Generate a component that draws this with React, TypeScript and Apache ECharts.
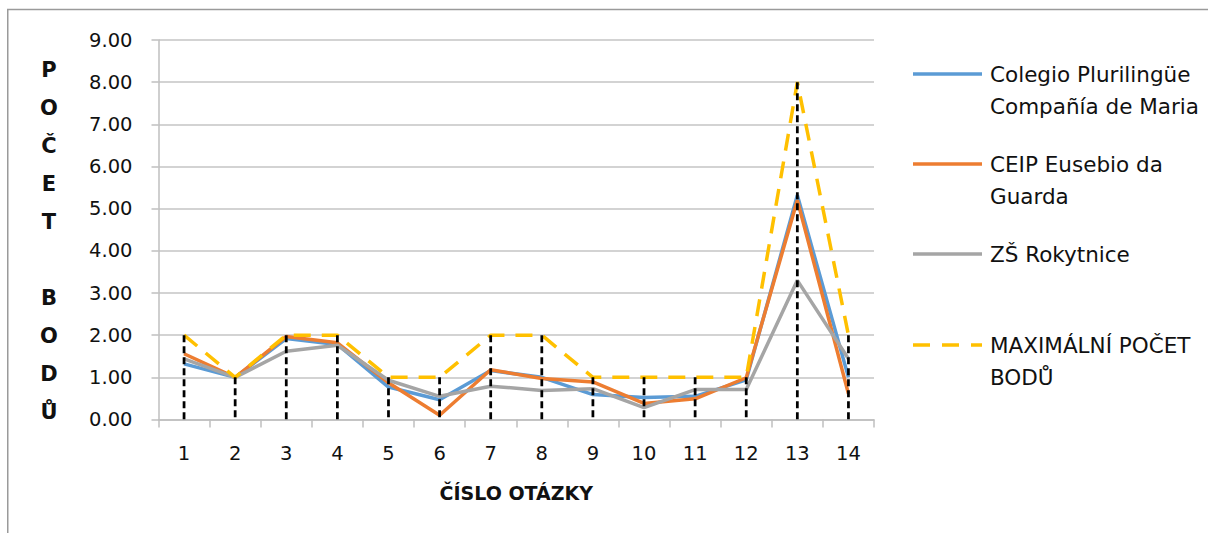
import React, { useEffect, useRef } from "react";
import * as echarts from "echarts";

const categories = ["1", "2", "3", "4", "5", "6", "7", "8", "9", "10", "11", "12", "13", "14"];
const colegio = [1.32, 1.0, 1.92, 1.78, 0.77, 0.47, 1.16, 1.0, 0.59, 0.52, 0.55, 0.94, 5.32, 1.0];
const ceip = [1.56, 1.0, 1.97, 1.82, 0.87, 0.1, 1.18, 0.97, 0.89, 0.38, 0.49, 0.99, 5.2, 0.61];
const rokytnice = [1.44, 1.0, 1.62, 1.76, 0.93, 0.55, 0.79, 0.69, 0.73, 0.28, 0.71, 0.71, 3.3, 1.44];
const maxBody = [2, 1, 2, 2, 1, 1, 2, 2, 1, 1, 1, 1, 8, 2];
const seriesNames = [
  "Colegio Plurilingüe\nCompañía de Maria",
  "CEIP Eusebio da\nGuarda",
  "ZŠ Rokytnice",
  "MAXIMÁLNÍ POČET\nBODŮ",
];
const yTicks = [0, 1, 2, 3, 4, 5, 6, 7, 8, 9];

const FONT = "DejaVu Sans";
const COLORS = ["#5B9BD5", "#ED7D31", "#A5A5A5", "#FFC000"];

export default function App() {
  const ref = useRef<HTMLDivElement>(null);
  useEffect(() => {
    if (!ref.current) return;
    const chart = echarts.init(ref.current, null, { renderer: "svg" });
    const legendY = [74, 164, 254, 345];
    const legendGraphics: any[] = [];
    seriesNames.forEach((name, i) => {
      legendGraphics.push({
        type: "line",
        shape: { x1: 913, y1: legendY[i], x2: 982, y2: legendY[i] },
        style: {
          stroke: COLORS[i],
          lineWidth: 3.5,
          lineDash: i === 3 ? [17, 12] : null,
        },
        silent: true,
      });
      legendGraphics.push({
        type: "text",
        x: 990,
        y: legendY[i] - 16,
        style: {
          text: name,
          fontFamily: FONT,
          fontSize: 21.5,
          fill: "#111",
          textAlign: "left",
          textVerticalAlign: "top",
          lineHeight: 32,
        },
        silent: true,
      });
    });
    const lineSeries = [colegio, ceip, rokytnice].map((d, i) => ({
      name: seriesNames[i],
      type: "line",
      data: d,
      symbol: "none",
      lineStyle: { color: COLORS[i], width: 3.5 },
      itemStyle: { color: COLORS[i] },
      z: 2 + i,
    }));
    chart.setOption({
      animation: false,
      grid: { left: 158.5, right: 334, top: 40, bottom: 113.5 },
      xAxis: {
        type: "category",
        data: categories,
        boundaryGap: true,
        axisLine: { lineStyle: { color: "#bfbfbf", width: 1.5 } },
        axisTick: { show: true, length: 8, lineStyle: { color: "#bfbfbf", width: 1.5 } },
        axisLabel: { fontFamily: FONT, fontSize: 19.5, color: "#111", margin: 24 },
        splitLine: { show: false },
        name: "ČÍSLO OTÁZKY",
        nameLocation: "middle",
        nameGap: 64,
        nameTextStyle: { fontFamily: FONT, fontSize: 19, fontWeight: "bold", color: "#111" },
      },
      yAxis: {
        type: "value",
        min: yTicks[0],
        max: yTicks[yTicks.length - 1],
        interval: 1,
        axisLine: { show: true, lineStyle: { color: "#bfbfbf", width: 1.5 } },
        axisTick: { show: true, length: 7, lineStyle: { color: "#bfbfbf", width: 1.5 } },
        axisLabel: {
          fontFamily: FONT,
          fontSize: 19.5,
          color: "#111",
          margin: 26,
          formatter: (v: number) => v.toFixed(2),
        },
        splitLine: { show: true, lineStyle: { color: "#c4c4c4", width: 1.5 } },
      },
      series: [
        ...lineSeries,
        {
          name: seriesNames[3],
          type: "line",
          data: maxBody,
          symbol: "none",
          lineStyle: { color: COLORS[3], width: 3.5, type: [17, 11] },
          itemStyle: { color: COLORS[3] },
          z: 6,
        },
        {
          type: "custom",
          name: "drop",
          data: maxBody.map((v, i) => [i, v]),
          encode: { x: 0, y: 1 },
          z: 8,
          silent: true,
          renderItem: (params: any, api: any) => {
            const p0 = api.coord([api.value(0), 0]);
            const p1 = api.coord([api.value(0), api.value(1)]);
            return {
              type: "line",
              shape: { x1: p1[0], y1: p1[1], x2: p0[0], y2: p0[1] },
              style: { stroke: "#000", lineWidth: 2.75, lineDash: [7, 4] },
            };
          },
        },
      ],
      graphic: [
        {
          type: "rect",
          shape: { x: 7.75, y: 9.5, width: 1400, height: 700 },
          style: { fill: "none", stroke: "#9a9a9a", lineWidth: 1.5 },
          silent: true,
          z: -10,
        },
        {
          type: "text",
          x: 49,
          y: 241,
          style: {
            text: "P\nO\nČ\nE\nT\n \nB\nO\nD\nŮ",
            fontFamily: FONT,
            fontSize: 21,
            fontWeight: "bold",
            fill: "#111",
            textAlign: "center",
            textVerticalAlign: "middle",
            lineHeight: 38,
          },
          silent: true,
        },
        ...legendGraphics,
      ],
    });
    return () => chart.dispose();
  }, []);
  return (
    <div
      ref={ref}
      style={{ position: "absolute", left: 0, top: 0, width: 1208, height: 533, background: "#fff" }}
    />
  );
}
